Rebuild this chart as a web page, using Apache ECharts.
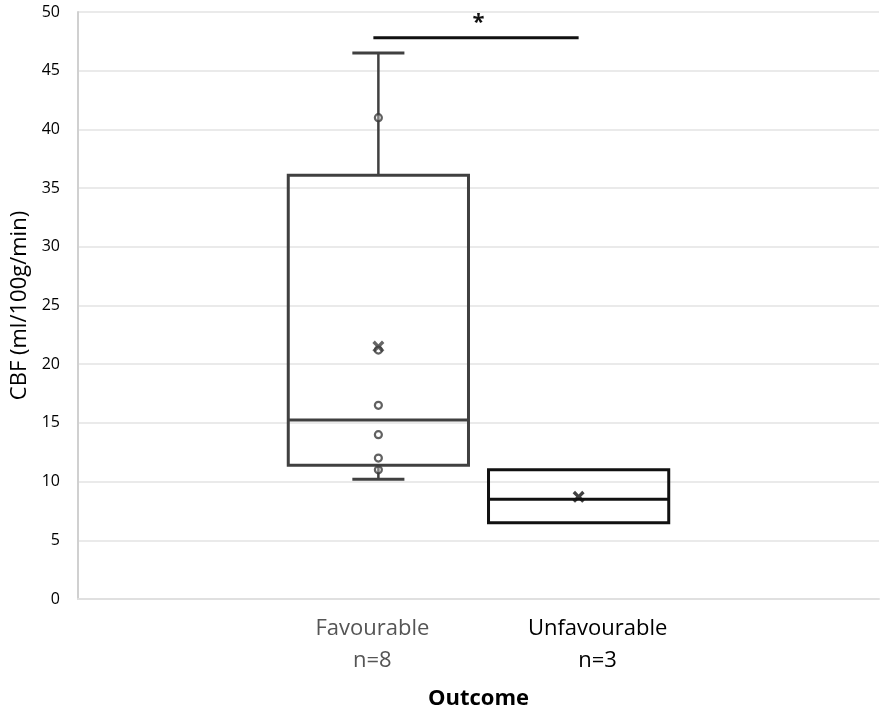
<!DOCTYPE html>
<html>
<head>
<meta charset="utf-8">
<script src="https://cdn.jsdelivr.net/npm/echarts@6/dist/echarts.min.js"></script>
<style>
  html, body { margin: 0; padding: 0; background: #fff; }
  #chart { width: 883px; height: 715px; }
</style>
</head>
<body>
<div id="chart"></div>
<script>
// categories (outer empty slots give the spacing of the original)
const categories = ['', 'Favourable', 'Unfavourable', '']
const groupN = ['n=8', 'n=3']
// [category index, min, q1, median, q3, max]
const boxStats = [
  [1, 10.2, 11.4, 15.25, 36.1, 46.5],
  [2, 6.5, 6.5, 8.5, 11.0, 11.0]
]
const means = [21.5, 8.7]
const favourablePoints = [41, 21.2, 16.5, 14, 12, 11]
const sigBarValue = 47.8
const yTicks = [0, 50, 5]

const boxColors = ['#404040', '#111111']

const chart = echarts.init(document.getElementById('chart'))

// 箱体 + 须
const renderBox = (params, api) => {
  const idx = api.value(0)
  const lo = api.coord([idx, api.value(1)])
  const q1 = api.coord([idx, api.value(2)])
  const md = api.coord([idx, api.value(3)])
  const q3 = api.coord([idx, api.value(4)])
  const hi = api.coord([idx, api.value(5)])
  const band = api.size([1, 0])[0]
  const hw = band * 0.45
  const cap = band * 0.13
  const color = boxColors[params.dataIndex]
  const x = q1[0]
  const children = []
  if (q3[1] - hi[1] > 1) {
    children.push({type: 'line', shape: {x1: x, y1: q3[1], x2: x, y2: hi[1]}, style: {stroke: color, lineWidth: 2.5}})
    children.push({type: 'line', shape: {x1: x - cap, y1: hi[1], x2: x + cap, y2: hi[1]}, style: {stroke: color, lineWidth: 3}})
  }
  if (lo[1] - q1[1] > 1) {
    children.push({type: 'line', shape: {x1: x, y1: q1[1], x2: x, y2: lo[1]}, style: {stroke: color, lineWidth: 2.5}})
    children.push({type: 'line', shape: {x1: x - cap, y1: lo[1], x2: x + cap, y2: lo[1]}, style: {stroke: color, lineWidth: 3}})
  }
  children.push({
    type: 'rect',
    shape: {x: x - hw, y: q3[1], width: hw * 2, height: q1[1] - q3[1]},
    style: {fill: 'rgba(255,255,255,0)', stroke: color, lineWidth: 3}
  })
  children.push({type: 'line', shape: {x1: x - hw, y1: md[1], x2: x + hw, y2: md[1]}, style: {stroke: color, lineWidth: 3}})
  return {type: 'group', children}
}

// 显著性标记
const renderSig = (params, api) => {
  const a = api.coord([api.value(0), api.value(2)])
  const b = api.coord([api.value(1), api.value(2)])
  return {
    type: 'group',
    children: [
      {type: 'line', shape: {x1: a[0] - 5, y1: a[1], x2: b[0], y2: b[1]}, style: {stroke: '#111', lineWidth: 3}},
      {type: 'text', x: (a[0] + b[0]) / 2, y: a[1] - 4,
        style: {text: '*', fill: '#111', font: 'bold 22px "Open Sans"', align: 'center', verticalAlign: 'bottom'}}
    ]
  }
}

const crossPath = 'path://M0,2L2,0L5,3L8,0L10,2L7,5L10,8L8,10L5,7L2,10L0,8L3,5Z'

const options = {
  animation: false,
  grid: {left: 78, right: 4, top: 12, bottom: 114},
  xAxis: {
    type: 'category',
    data: categories,
    boundaryGap: true,
    name: 'Outcome',
    nameLocation: 'middle',
    nameGap: 89,
    nameTextStyle: {fontFamily: 'Open Sans', fontSize: 22, fontWeight: 'bold', color: '#000'},
    axisLine: {lineStyle: {color: '#e0e0e0', width: 2}},
    axisTick: {show: false},
    axisLabel: {
      interval: 0,
      margin: 14,
      formatter: (val, i) => {
        if (i === 1) return '{fav|' + val + '}\n{fav|' + groupN[0] + '}'
        if (i === 2) return '{unf|' + val + '}\n{unf|' + groupN[1] + '}'
        return ''
      },
      rich: {
        fav: {fontFamily: 'Open Sans', fontSize: 22, lineHeight: 32, color: '#555', padding: [0, 12, 0, 0]},
        unf: {fontFamily: 'Open Sans', fontSize: 22, lineHeight: 32, color: '#000', padding: [0, 0, 0, 38]}
      }
    },
    splitLine: {show: false}
  },
  yAxis: {
    type: 'value',
    min: yTicks[0],
    max: yTicks[1],
    interval: yTicks[2],
    name: 'CBF (ml/100g/min)',
    nameLocation: 'middle',
    nameGap: 44,
    nameTextStyle: {fontFamily: 'Open Sans', fontSize: 22, color: '#000'},
    axisLine: {show: true, lineStyle: {color: '#d0d0d0', width: 2}},
    axisTick: {show: false},
    axisLabel: {fontFamily: 'Open Sans', fontSize: 16, color: '#000', margin: 18},
    splitLine: {lineStyle: {color: '#e3e3e3', width: 1.5}}
  },
  series: [
    {
      type: 'custom',
      renderItem: renderBox,
      encode: {x: 0, y: [1, 2, 3, 4, 5]},
      data: boxStats,
      z: 2
    },
    {
      type: 'scatter',
      data: favourablePoints.map(v => [categories[1], v]),
      symbol: 'circle',
      symbolSize: 7,
      itemStyle: {color: 'rgba(255,255,255,0.4)', borderColor: '#3a3a3a', borderWidth: 2.2},
      z: 3
    },
    {
      type: 'scatter',
      data: means.map((v, i) => ({value: [categories[i + 1], v], itemStyle: {color: boxColors[i]}})),
      symbol: crossPath,
      symbolSize: 12,
      z: 4
    },
    {
      type: 'custom',
      renderItem: renderSig,
      encode: {x: [0, 1], y: 2},
      data: [[1, 2, sigBarValue]],
      z: 5
    }
  ]
}

chart.setOption(options)
</script>
</body>
</html>
